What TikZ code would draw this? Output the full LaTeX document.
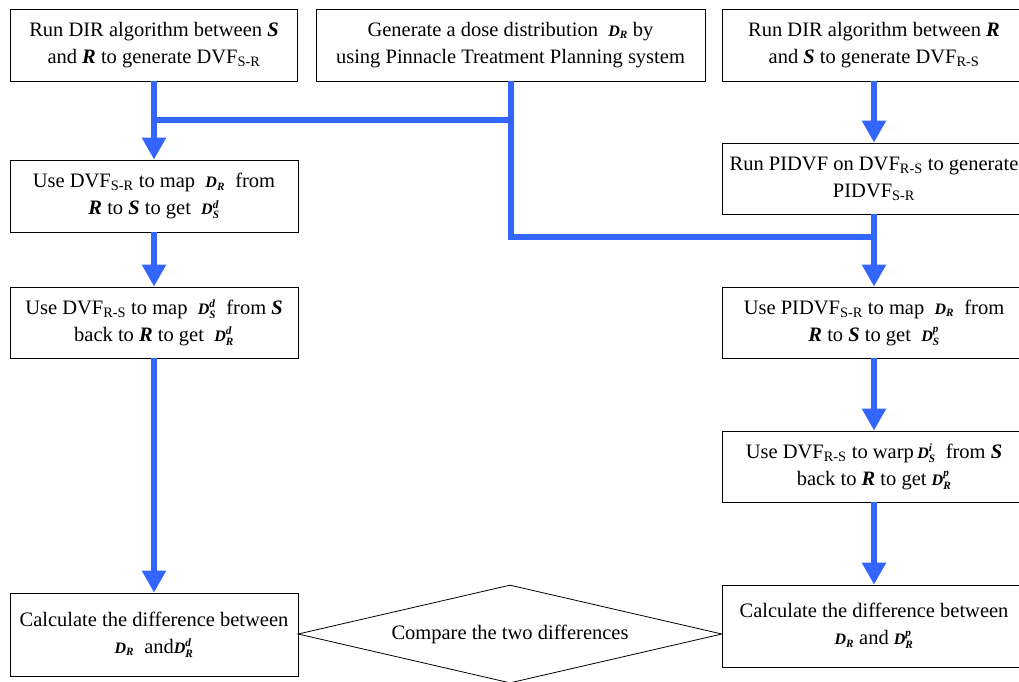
\documentclass[tikz,border=0pt]{standalone}
\usepackage{amsmath}
\usepackage{fontspec}
\setmainfont{Liberation Serif}
\usetikzlibrary{arrows.meta,shapes.geometric}
\definecolor{flowblue}{RGB}{51,102,255}
\newcommand{\bi}[1]{\textbf{\textit{#1}}}
\newcommand{\doseR}{{\fontsize{16}{16}\selectfont$\bi{D}_{\bi{R}}$}}
\newcommand{\dose}[2]{{\fontsize{16}{16}\selectfont$\bi{D}^{\bi{#2}}_{\bi{#1}}$}}
\begin{document}
\begin{tikzpicture}[x=1pt,y=-1pt,
		box/.style={draw,line width=0.8pt,inner sep=0pt,align=center,minimum height=72pt,font=\fontsize{20.5}{27}\selectfont},
		flow/.style={flowblue,line width=6pt,-{Triangle[width=23pt,length=22pt]}},
		link/.style={flowblue,line width=6pt}]
		\clip (0,0) rectangle (1019,681);
		\node[box,minimum width=287pt] (runSR) at (154,45) {Run DIR algorithm between \bi{S}\\and \bi{R} to generate DVF\textsubscript{S-R}};
		\node[box,minimum width=389pt] (dose) at (510.5,45) {Generate a dose distribution \ \doseR\ by\\using Pinnacle Treatment Planning system};
		\node[box,minimum width=304pt] (runRS) at (874,45) {Run DIR algorithm between \bi{R}\\and \bi{S} to generate DVF\textsubscript{R-S}};
		\node[box,minimum width=288pt] (mapD) at (154,196) {Use DVF\textsubscript{S-R} to map \ \doseR\ \ from\\\bi{R} to \bi{S} to get \ \dose{S}{d}};
		\node[box,minimum width=304pt,minimum height=71pt] (pidvf) at (874,178.5) {Run PIDVF on DVF\textsubscript{R-S} to generate\\PIDVF\textsubscript{S-R}};
		\node[box,minimum width=288pt,minimum height=71pt] (backD) at (154,322.5) {Use DVF\textsubscript{R-S} to map \ \dose{S}{d} \ from \bi{S}\\back to \bi{R} to get \ \dose{R}{d}};
		\node[box,minimum width=304pt,minimum height=71pt] (mapP) at (874,322.5) {Use PIDVF\textsubscript{S-R} to map \ \doseR\ \ from\\\bi{R} to \bi{S} to get \ \dose{S}{p}};
		\node[box,minimum width=304pt,minimum height=71pt] (warpP) at (874,466.5) {Use DVF\textsubscript{R-S} to warp\,\dose{S}{i} \ from \bi{S}\\back to \bi{R} to get \dose{R}{p}};
		\node[box,minimum width=288pt,minimum height=83pt] (diffD) at (154,634.5) {Calculate the difference between\\\doseR\ \ and\dose{R}{d}};
		\node[box,minimum width=304pt,minimum height=82pt] (diffP) at (874,626) {Calculate the difference between\\\doseR\ and \dose{R}{p}};
		\node[diamond,draw,line width=0.8pt,aspect=4.3,inner sep=0pt,minimum width=424pt,minimum height=98pt,font=\fontsize{20.5}{27}\selectfont] (cmp) at (510,634) {Compare the two differences};
		\coordinate (jl) at (154,120);
		\coordinate (jr) at (874,237);
		\draw[link] (dose.south) |- (jr);
		\draw[link] (dose.south |- jl) -- (jl);
		\draw[flow] (runSR) -- (mapD);
		\draw[flow] (runRS) -- (pidvf);
		\draw[flow] (pidvf) -- (mapP);
		\draw[flow] (mapD) -- (backD);
		\draw[flow] (backD) -- (diffD);
		\draw[flow] (mapP) -- (warpP);
		\draw[flow] (warpP) -- (diffP);
	\end{tikzpicture}
\end{document}
